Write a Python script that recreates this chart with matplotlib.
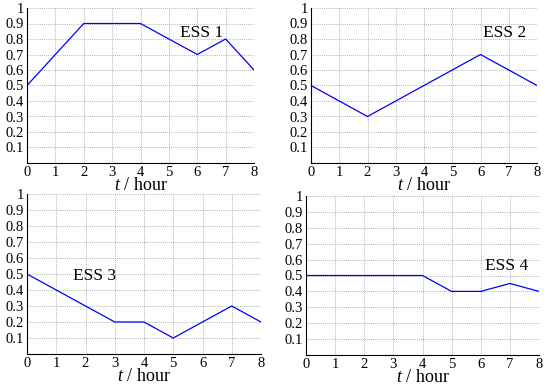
import matplotlib
matplotlib.use('Agg')
import matplotlib.pyplot as plt

# Data
hours = [0, 1, 2, 3, 4, 5, 6, 7, 8]
ess1 = [0.5, 0.7, 0.9, 0.9, 0.9, 0.8, 0.7, 0.8, 0.6]
ess2 = [0.5, 0.4, 0.3, 0.4, 0.5, 0.6, 0.7, 0.6, 0.5]
ess3 = [0.5, 0.4, 0.3, 0.2, 0.2, 0.1, 0.2, 0.3, 0.2]
ess4 = [0.5, 0.5, 0.5, 0.5, 0.5, 0.4, 0.4, 0.45, 0.4]
labels = ['ESS 1', 'ESS 2', 'ESS 3', 'ESS 4']
ytick_vals = [0.1, 0.2, 0.3, 0.4, 0.5, 0.6, 0.7, 0.8, 0.9, 1.0]
ytick_labels = ['0.1', '0.2', '0.3', '0.4', '0.5', '0.6', '0.7', '0.8', '0.9', '1']

plt.rcParams['font.family'] = ['Liberation Serif', 'DejaVu Serif']
plt.rcParams['mathtext.fontset'] = 'custom'
plt.rcParams['mathtext.it'] = 'Liberation Serif:italic'
plt.rcParams['mathtext.rm'] = 'Liberation Serif'

W, H = 550, 387
fig = plt.figure(figsize=(5.5, 3.87), dpi=100)

# axes boxes in pixels: left, top, right, bottom
boxes = [(27, 8, 254, 163), (311, 8, 537, 163),
         (27, 194, 261, 354), (306, 196, 539, 355)]
# label positions in data coords
text_pos = [(5.39, 0.815), (6.09, 0.81), (1.57, 0.46), (6.15, 0.535)]
series = [ess1, ess2, ess3, ess4]

for box, ys, lab, tp in zip(boxes, series, labels, text_pos):
    l, t, r, b = box
    ax = fig.add_axes([l / W, 1 - b / H, (r - l) / W, (b - t) / H])
    ax.plot(hours, ys, color='#0000ff', lw=0.9)
    ax.set_xlim(0, 8)
    ax.set_ylim(0, 1)
    ax.set_xticks(hours)
    ax.set_yticks(ytick_vals)
    ax.set_yticklabels(ytick_labels)
    ax.grid(True, linestyle=(0, (1, 1.5)), color='#999999', lw=0.6)
    ax.spines['top'].set_visible(False)
    ax.spines['right'].set_visible(False)
    ax.tick_params(direction='in', length=0, labelsize=10.5, pad=2)
    ax.set_xlabel(r'$t$ / hour', fontsize=13, labelpad=-1)
    ax.text(tp[0], tp[1], lab, fontsize=12.5)

fig.savefig('out.png', dpi=100)
